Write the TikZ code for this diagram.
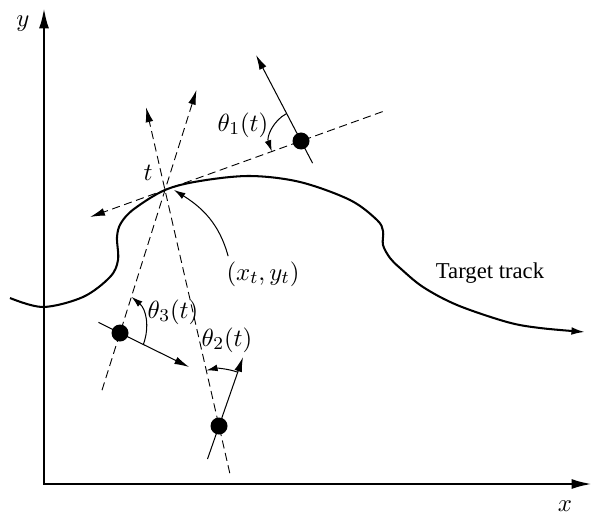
\documentclass[tikz,border=0pt]{standalone}
\usepackage[no-math]{fontspec}
\setmainfont{Liberation Serif}
\usetikzlibrary{arrows.meta,calc}

\begin{document}
\begin{tikzpicture}[
  x=0.0155cm, y=0.0155cm,
  font=\normalsize,
  axes/.style    = {line width=1.1pt, {Latex[length=9pt,width=4.4pt]}-{Latex[length=9pt,width=4.4pt]}},
  track/.style   = {line width=0.9pt, -{Latex[length=6pt,width=3.4pt]}},
  bearing/.style = {dashed, dash pattern=on 3.6pt off 2pt, line width=0.4pt, -{Latex[length=6.5pt,width=3.4pt]}},
  heading/.style = {line width=0.45pt, -{Latex[length=6.5pt,width=3.4pt]}},
  angarc/.style  = {line width=0.45pt, -{Latex[length=5pt,width=3pt]}},
  sensor/.style  = {circle, fill=black, inner sep=0pt, minimum size=7.5pt},
  lbl/.style     = {inner sep=0pt},
  mlbl/.style    = {inner sep=0pt, font=\fontsize{11}{13}\selectfont},
]
\path[use as bounding box] (0,0) rectangle (596,514);

% ---- positions -------------------------------------------------------------
\coordinate (O)    at (44,30);
\coordinate (ytop) at (44,506);
\coordinate (xend) at (592,30);
\coordinate (P)    at (165,324);   % target at time t
\coordinate (S1)   at (301,373);   % sensor 1
\coordinate (S2)   at (219,88);    % sensor 2
\coordinate (S3)   at (120,181);   % sensor 3

% ---- axes ------------------------------------------------------------------
\draw[axes] (ytop) -- (O) -- (xend);
\node[mlbl] (ylab) at (23,490) {$y$};
\node[mlbl] (xlab) at (565,8)  {$x$};

% ---- target track ----------------------------------------------------------
\draw[track] plot[smooth, tension=0.55] coordinates {
  (10,216) (43,207) (83,217) (110,237) (118,254) (117,277) (121,291)
  (134,305) (P) (200,333) (250,338) (300,332) (350,314) (377,294)
  (383,283) (383,269) (390,256) (400,246) (423,227) (457,209)
  (507,192) (540,186) (585,182)};
\node[lbl] (tt) at (490,241) {Target track};

% ---- bearing lines through the target --------------------------------------
\draw[bearing] ($(S1)!-0.6!(P)$) -- ($(S1)!1.55!(P)$);
\draw[bearing] ($(S2)!-0.2!(P)$) -- ($(S2)!1.35!(P)$);
\draw[bearing] ($(S3)!-0.4!(P)$) -- ($(S3)!1.7!(P)$);

% ---- sensor headings -------------------------------------------------------
\draw[heading] ([shift={(297.6:25)}]S1) -- ([shift={(117.6:97)}]S1);
\draw[heading] ([shift={(250.8:35)}]S2) -- ([shift={(70.8:73)}]S2);
\draw[heading] ([shift={(153.8:24)}]S3) -- ([shift={(-26.2:77)}]S3);

\node[sensor] (s1) at (S1) {};
\node[sensor] (s2) at (S2) {};
\node[sensor] (s3) at (S3) {};

% ---- angles ----------------------------------------------------------------
\draw[angarc] ([shift={(117.6:31)}]S1) arc[start angle=117.6, end angle=199.8, radius=31];
\draw[angarc] ([shift={(70.8:57)}]S2) arc[start angle=70.8, end angle=102.9, radius=57];
\draw[angarc] ([shift={(-26.2:26)}]S3) to[out=70, in=-40] ([shift={(72.5:38)}]S3);

\node[mlbl] (th1) at (243,389) {$\theta_1(t)$};
\node[mlbl] (th2) at (227,174) {$\theta_2(t)$};
\node[mlbl] (th3) at (173,202) {$\theta_3(t)$};

% ---- target point label ----------------------------------------------------
\node[mlbl] (tlab) at (148,341) {$t$};
\node[mlbl] (xt)   at (263,240) {$(x_t,y_t)$};
\draw[angarc] ($(xt.north west)+(2,5)$) to[out=105, in=-32] ([xshift=4]P);

\end{tikzpicture}
\end{document}
